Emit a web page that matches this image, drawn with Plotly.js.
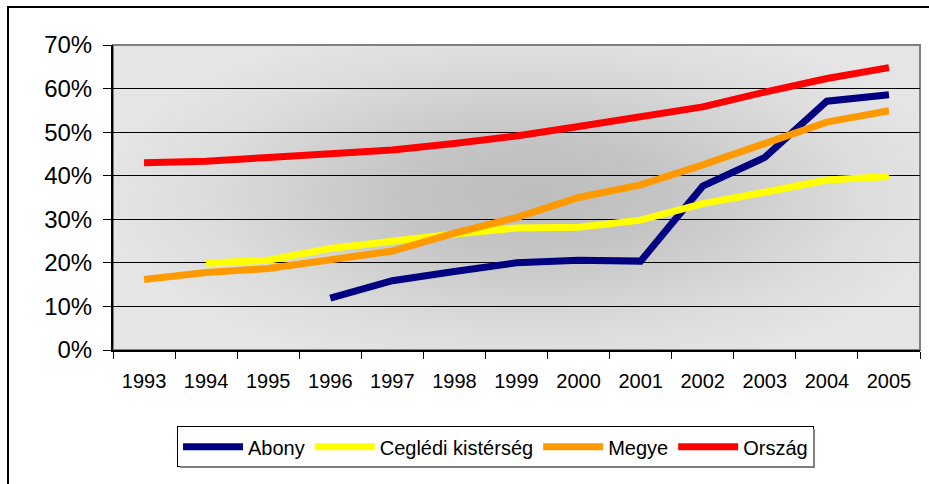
<!DOCTYPE html>
<html>
<head>
<meta charset="utf-8">
<script src="https://cdn.plot.ly/plotly-3.0.1.min.js"></script>
<style>
  html, body { margin: 0; padding: 0; background: #fff; overflow: hidden; }
  #wrap { position: relative; width: 929px; height: 484px; }
  #chart { position: absolute; left: 0; top: 0; width: 929px; height: 484px; }
  #frame { position: absolute; left: 7px; top: 6px; width: 1000px; height: 600px;
           border-top: 2px solid #000; border-left: 2px solid #000; pointer-events: none; }
</style>
</head>
<body>
<div id="wrap"><div id="chart"></div><div id="frame"></div></div>
<script>
const years = ['1993','1994','1995','1996','1997','1998','1999','2000','2001','2002','2003','2004','2005'];
const seriesNames = ['Abony', 'Ceglédi kistérség', 'Megye', 'Ország'];
const abony   = [null, null, null, 0.119, 0.159, 0.180, 0.200, 0.206, 0.204, 0.376, 0.442, 0.571, 0.586];
const cegledi = [null, 0.199, 0.206, 0.233, 0.251, 0.266, 0.280, 0.282, 0.298, 0.336, 0.362, 0.390, 0.398];
const megye   = [0.162, 0.178, 0.187, 0.207, 0.227, 0.268, 0.304, 0.350, 0.379, 0.425, 0.476, 0.523, 0.549];
const orszag  = [0.430, 0.433, 0.442, 0.449, 0.459, 0.474, 0.491, 0.513, 0.534, 0.558, 0.592, 0.623, 0.648];
const yTicks = [0, 0.1, 0.2, 0.3, 0.4, 0.5, 0.6, 0.7];

const colors = ['#000080', '#FFFF00', '#FF9900', '#FF0000'];
const seriesValues = [abony, cegledi, megye, orszag];

// gradient background image for the plot area
function gradientImage() {
  const c = document.createElement('canvas');
  c.width = 807; c.height = 305;
  const g = c.getContext('2d');
  g.fillStyle = '#e5e5e5';
  g.fillRect(0, 0, c.width, c.height);
  g.save();
  g.translate(420, 150);
  g.scale(1, 0.42);
  const rg = g.createRadialGradient(0, 0, 0, 0, 0, 430);
  rg.addColorStop(0, '#bdbdbd');
  rg.addColorStop(0.3, '#c4c4c4');
  rg.addColorStop(0.75, '#dcdcdc');
  rg.addColorStop(1, '#e5e5e5');
  g.fillStyle = rg;
  g.fillRect(-430, -800, 860, 1600);
  g.restore();
  return c.toDataURL('image/png');
}

const font = 'Liberation Sans, Arial, sans-serif';

const traces = seriesValues.map((vals, i) => ({
  x: years,
  y: vals,
  name: seriesNames[i],
  type: 'scatter',
  mode: 'lines',
  line: { color: colors[i], width: 7 },
  connectgaps: false,
  hoverinfo: 'x+y+name'
}));

const layout = {
  width: 929,
  height: 484,
  margin: { l: 113, r: 9, t: 45, b: 134 },
  paper_bgcolor: 'rgba(0,0,0,0)',
  plot_bgcolor: 'rgba(0,0,0,0)',
  font: { family: font, color: '#000' },
  showlegend: true,
  legend: {
    orientation: 'h',
    x: 0.474, xanchor: 'center',
    y: -0.25, yanchor: 'top',
    bordercolor: '#000', borderwidth: 1,
    bgcolor: '#fff',
    font: { family: font, size: 20, color: '#000' },
    itemwidth: 60,
    traceorder: 'normal'
  },
  xaxis: {
    type: 'category',
    categoryorder: 'array',
    categoryarray: years,
    range: [-0.5, 12.5],
    tickson: 'boundaries',
    ticks: 'outside',
    ticklen: 7,
    tickwidth: 1,
    tickcolor: '#000',
    showline: true,
    linecolor: '#000',
    linewidth: 2,
    showgrid: false,
    zeroline: false,
    tickfont: { family: font, size: 20, color: '#000' },
    ticklabelstandoff: 12,
    fixedrange: true
  },
  yaxis: {
    range: [0, 0.7],
    tickvals: yTicks,
    tickformat: '.0%',
    ticks: 'outside',
    ticklen: 8,
    tickwidth: 1,
    tickcolor: '#000',
    showline: true,
    linecolor: '#000',
    linewidth: 2,
    showgrid: true,
    gridcolor: '#000',
    gridwidth: 1,
    zeroline: false,
    tickfont: { family: font, size: 24, color: '#000' },
    ticklabelstandoff: 6,
    fixedrange: true
  },
  shapes: [
    { type: 'rect', xref: 'paper', yref: 'paper', x0: 0, x1: 1, y0: 0, y1: 1,
      line: { color: '#808080', width: 2 }, layer: 'below' }
  ],
  images: [
    { source: gradientImage(), xref: 'paper', yref: 'paper', x: 0, y: 1,
      sizex: 1, sizey: 1, sizing: 'stretch', xanchor: 'left', yanchor: 'top', layer: 'below' }
  ]
};

Plotly.newPlot('chart', traces, layout, { displayModeBar: false, staticPlot: true }).then(gd => {
  // gray drop shadow on the legend's bottom and right edges
  const bg = gd.querySelector('.legend .bg');
  const leg = gd.querySelector('.legend');
  if (!bg || !leg) return;
  const lr = leg.getBoundingClientRect();
  const cr = gd.getBoundingClientRect();
  const left = lr.left - cr.left, top = lr.top - cr.top;
  const w = lr.width, h = lr.height;
  const sh = document.createElement('div');
  sh.style.cssText = 'position:absolute;pointer-events:none;' +
    'left:' + (left + 2) + 'px;top:' + (top + 2) + 'px;width:' + (w - 1) + 'px;height:' + (h - 1) + 'px;' +
    'border-right:2px solid #808080;border-bottom:2px solid #808080;box-sizing:border-box;';
  document.getElementById('wrap').insertBefore(sh, document.getElementById('frame'));
});
</script>
</body>
</html>
